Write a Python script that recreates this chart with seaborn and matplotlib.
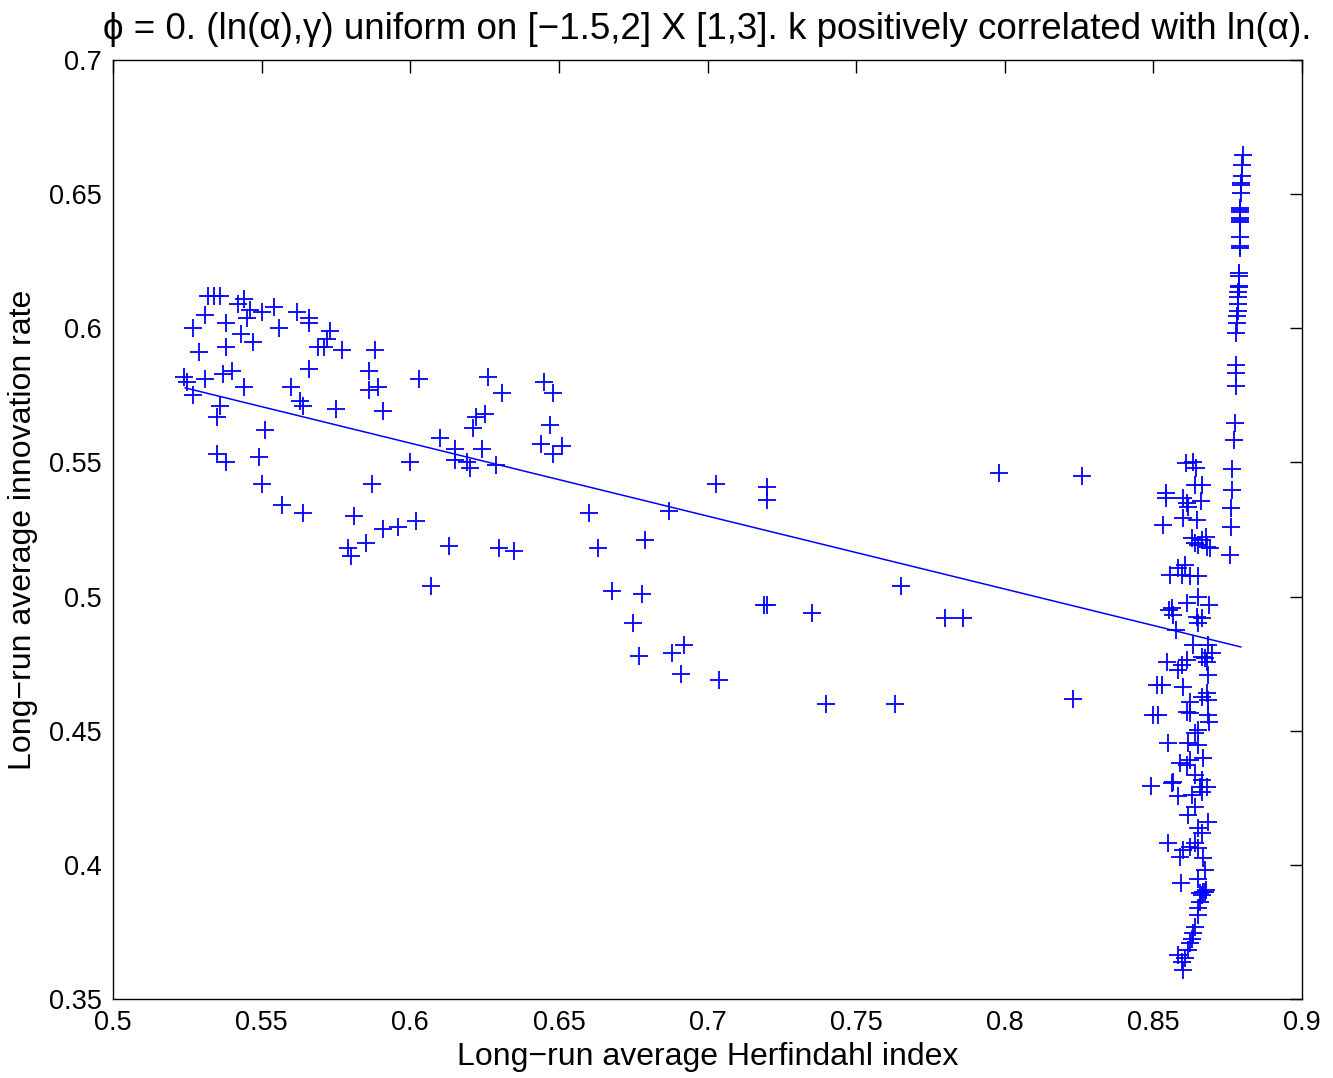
import numpy as np
import pandas as pd
import matplotlib
matplotlib.use("Agg")
import matplotlib.pyplot as plt
import seaborn as sns

# ---- data ----
left_x = [0.524, 0.525, 0.527, 0.527, 0.529, 0.531, 0.531, 0.532, 0.534, 0.536,
          0.535, 0.536, 0.535, 0.538, 0.537, 0.538, 0.538, 0.540, 0.542, 0.543,
          0.544, 0.544, 0.545, 0.546, 0.547, 0.549, 0.550, 0.550, 0.551, 0.554,
          0.556, 0.557, 0.560, 0.562, 0.563, 0.564, 0.564, 0.566, 0.566, 0.566,
          0.569, 0.571, 0.572, 0.573, 0.575, 0.577, 0.579, 0.580, 0.581, 0.585,
          0.586, 0.586, 0.587, 0.588, 0.589, 0.591, 0.591, 0.596, 0.600, 0.602,
          0.603, 0.607, 0.610, 0.613, 0.615, 0.615, 0.619, 0.620, 0.621, 0.622,
          0.625, 0.624, 0.626, 0.629, 0.630, 0.631, 0.635, 0.644, 0.645, 0.648,
          0.647, 0.648, 0.651, 0.660, 0.663, 0.668, 0.675, 0.677, 0.678, 0.679,
          0.687, 0.688, 0.691, 0.692, 0.703, 0.704, 0.719, 0.720, 0.720, 0.720,
          0.735, 0.740, 0.763, 0.765, 0.780, 0.786, 0.798, 0.823, 0.826]
left_y = [0.582, 0.580, 0.575, 0.600, 0.591, 0.605, 0.581, 0.612, 0.612, 0.612,
          0.567, 0.571, 0.553, 0.550, 0.583, 0.593, 0.602, 0.584, 0.609, 0.598,
          0.611, 0.578, 0.604, 0.607, 0.595, 0.552, 0.542, 0.606, 0.562, 0.608,
          0.600, 0.534, 0.578, 0.606, 0.573, 0.571, 0.531, 0.602, 0.604, 0.585,
          0.593, 0.593, 0.596, 0.599, 0.570, 0.592, 0.518, 0.515, 0.530, 0.520,
          0.584, 0.577, 0.542, 0.592, 0.578, 0.569, 0.525, 0.526, 0.550, 0.528,
          0.581, 0.504, 0.559, 0.519, 0.555, 0.551, 0.550, 0.548, 0.563, 0.567,
          0.568, 0.555, 0.582, 0.549, 0.518, 0.576, 0.517, 0.557, 0.580, 0.576,
          0.564, 0.553, 0.556, 0.531, 0.518, 0.502, 0.490, 0.478, 0.501, 0.521,
          0.532, 0.479, 0.471, 0.482, 0.542, 0.469, 0.497, 0.541, 0.497, 0.536,
          0.494, 0.460, 0.460, 0.504, 0.492, 0.492, 0.546, 0.462, 0.545]

cluster_x = [0.8610, 0.8633, 0.8643, 0.8640, 0.8664, 0.8542, 0.8542, 0.8600, 0.8613, 0.8616,
             0.8660, 0.8600, 0.8647, 0.8532, 0.8630, 0.8640, 0.8664, 0.8677, 0.8680, 0.8691,
             0.8650, 0.8606, 0.8583, 0.8556, 0.8596, 0.8623, 0.8650, 0.8650, 0.8613, 0.8687,
             0.8563, 0.8553, 0.8566, 0.8647, 0.8664, 0.8650, 0.8576, 0.8633, 0.8684, 0.8697,
             0.8674, 0.8664, 0.8680, 0.8546, 0.8613, 0.8596, 0.8583, 0.8684, 0.8512, 0.8529,
             0.8600, 0.8680, 0.8664, 0.8684, 0.8623, 0.8613, 0.8623, 0.8499, 0.8516, 0.8684,
             0.8687, 0.8650, 0.8640, 0.8549, 0.8616, 0.8650, 0.8667, 0.8623, 0.8590, 0.8613,
             0.8640, 0.8664, 0.8680, 0.8657, 0.8566, 0.8563, 0.8492, 0.8583, 0.8630, 0.8664,
             0.8640, 0.8616, 0.8684, 0.8650, 0.8664, 0.8549, 0.8640, 0.8623, 0.8650, 0.8600,
             0.8590, 0.8667, 0.8674, 0.8650, 0.8593, 0.8667, 0.8674, 0.8664, 0.8657, 0.8677,
             0.8657, 0.8650, 0.8650, 0.8640, 0.8633, 0.8630, 0.8623, 0.8616, 0.8583, 0.8606,
             0.8596, 0.8600]
cluster_y = [0.5498, 0.5502, 0.5479, 0.5416, 0.5416, 0.5386, 0.5367, 0.5367, 0.5349, 0.5334,
             0.5356, 0.5293, 0.5285, 0.5267, 0.5218, 0.5200, 0.5211, 0.5222, 0.5185, 0.5181,
             0.5192, 0.5118, 0.5106, 0.5080, 0.5080, 0.5077, 0.5077, 0.4998, 0.4976, 0.4969,
             0.4957, 0.4950, 0.4931, 0.4924, 0.4920, 0.4901, 0.4875, 0.4819, 0.4819, 0.4789,
             0.4771, 0.4775, 0.4756, 0.4756, 0.4764, 0.4745, 0.4726, 0.4708, 0.4670, 0.4670,
             0.4663, 0.4641, 0.4626, 0.4614, 0.4607, 0.4570, 0.4566, 0.4559, 0.4559, 0.4559,
             0.4533, 0.4503, 0.4491, 0.4454, 0.4454, 0.4447, 0.4398, 0.4391, 0.4380, 0.4372,
             0.4335, 0.4316, 0.4290, 0.4290, 0.4309, 0.4305, 0.4294, 0.4257, 0.4260, 0.4272,
             0.4216, 0.4186, 0.4160, 0.4137, 0.4119, 0.4081, 0.4081, 0.4067, 0.4063, 0.4055,
             0.4029, 0.4026, 0.3981, 0.3947, 0.3932, 0.3899, 0.3899, 0.3888, 0.3895, 0.3906,
             0.3862, 0.3839, 0.3813, 0.3768, 0.3746, 0.3724, 0.3709, 0.3683, 0.3664, 0.3653,
             0.3638, 0.3608]

column_x = [0.8800, 0.8799, 0.8797, 0.8796, 0.8796, 0.8795, 0.8793, 0.8793, 0.8793, 0.8792,
            0.8792, 0.8792, 0.8791, 0.8790, 0.8790, 0.8788, 0.8788, 0.8787, 0.8787, 0.8786,
            0.8786, 0.8785, 0.8784, 0.8783, 0.8782, 0.8779, 0.8778, 0.8777, 0.8777, 0.8774,
            0.8771, 0.8766, 0.8764, 0.8762, 0.8760, 0.8758]
column_y = [0.6646, 0.6609, 0.6568, 0.6542, 0.6534, 0.6504, 0.6448, 0.6441, 0.6433, 0.6411,
            0.6404, 0.6396, 0.6340, 0.6307, 0.6299, 0.6206, 0.6195, 0.6158, 0.6154, 0.6135,
            0.6117, 0.6091, 0.6065, 0.6046, 0.6020, 0.5983, 0.5863, 0.5833, 0.5785, 0.5647,
            0.5584, 0.5476, 0.5397, 0.5330, 0.5260, 0.5155]

fit_x = [0.5242, 0.8795]
fit_y = [0.5778, 0.4812]

x_ticks = [0.5, 0.55, 0.6, 0.65, 0.7, 0.75, 0.8, 0.85, 0.9]
x_tick_labels = ["0.5", "0.55", "0.6", "0.65", "0.7", "0.75", "0.8", "0.85", "0.9"]
y_ticks = [0.35, 0.4, 0.45, 0.5, 0.55, 0.6, 0.65, 0.7]
y_tick_labels = ["0.35", "0.4", "0.45", "0.5", "0.55", "0.6", "0.65", "0.7"]

title = "\u03d5 = 0. (ln(\u03b1),\u03b3) uniform on [\u22121.5,2] X [1,3]. k positively correlated with ln(\u03b1)."
xlabel = "Long\u2212run average Herfindahl index"
ylabel = "Long\u2212run average innovation rate"

# ---- plotting ----
sns.set_theme(style="white")
plt.rcParams["font.family"] = ["Liberation Sans", "DejaVu Sans"]
plt.rcParams["xtick.direction"] = "in"
plt.rcParams["ytick.direction"] = "in"

df = pd.DataFrame({
    "h": left_x + cluster_x + column_x,
    "r": left_y + cluster_y + column_y,
})
fit_df = pd.DataFrame({"h": fit_x, "r": fit_y})

fig = plt.figure(figsize=(13.33, 10.78), dpi=100)
ax = fig.add_axes([113 / 1333, 1 - 999 / 1078, (1302 - 113) / 1333, (999 - 60) / 1078])

sns.scatterplot(data=df, x="h", y="r", marker="+", s=150, color="#0000ff",
                linewidth=1.3, ax=ax, legend=False)
sns.lineplot(data=fit_df, x="h", y="r", color="#0000ff", linewidth=1.1, ax=ax,
             legend=False, estimator=None)

ax.set_xlim(0.5, 0.9)
ax.set_ylim(0.35, 0.7)
ax.set_xticks(x_ticks)
ax.set_xticklabels(x_tick_labels)
ax.set_yticks(y_ticks)
ax.set_yticklabels(y_tick_labels)
ax.tick_params(axis="both", which="both", direction="in", length=9, width=1,
               labelsize=19.5, top=True, right=True, colors="black", pad=8)
for s in ax.spines.values():
    s.set_color("black")
    s.set_linewidth(1.0)
ax.set_xlabel(xlabel, fontsize=23, color="black", labelpad=4)
ax.set_ylabel(ylabel, fontsize=23, color="black", labelpad=8)
ax.set_title(title, fontsize=26.5, color="black", pad=15)
ax.grid(False)

fig.savefig("out.png", dpi=100, facecolor="white")
